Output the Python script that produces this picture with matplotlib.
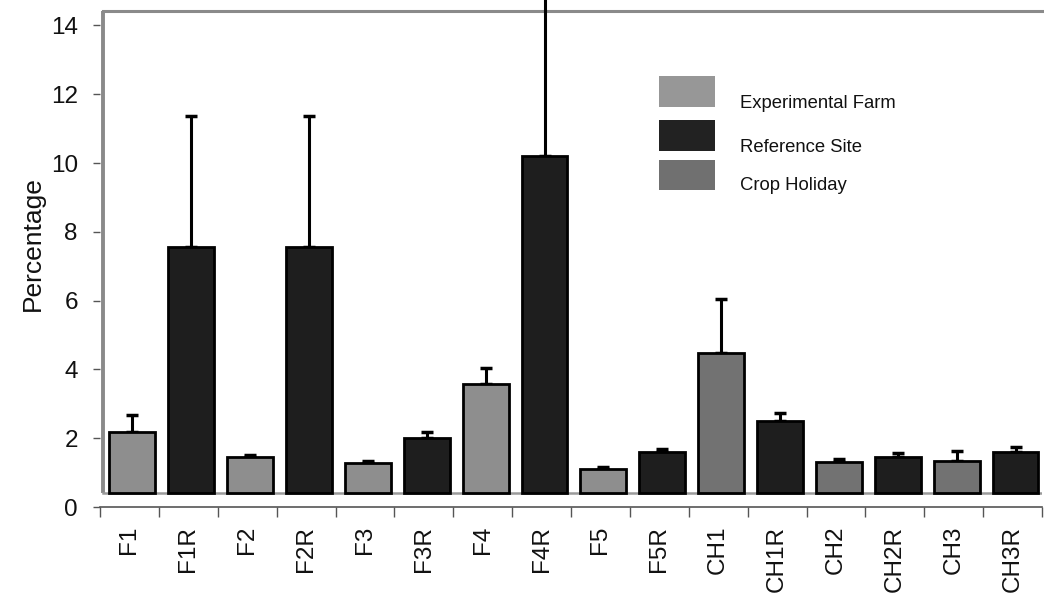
import numpy as np
import matplotlib
matplotlib.use("Agg")
import matplotlib.pyplot as plt
from matplotlib.patches import Rectangle

plt.rcParams['font.family'] = ['Liberation Sans', 'DejaVu Sans']

categories = ["F1", "F1R", "F2", "F2R", "F3", "F3R", "F4", "F4R",
              "F5", "F5R", "CH1", "CH1R", "CH2", "CH2R", "CH3", "CH3R"]
groups = ["EF", "RS", "EF", "RS", "EF", "RS", "EF", "RS",
          "EF", "RS", "CH", "RS", "CH", "RS", "CH", "RS"]
values = [2.19, 7.55, 1.44, 7.55, 1.27, 2.00, 3.58, 10.20,
          1.10, 1.61, 4.47, 2.51, 1.32, 1.44, 1.35, 1.61]
err_top = [2.67, 11.37, 1.52, 11.37, 1.34, 2.17, 4.04, 15.0,
           1.15, 1.68, 6.05, 2.72, 1.39, 1.56, 1.64, 1.75]
yticks = [0, 2, 4, 6, 8, 10, 12, 14]

group_names = {"EF": "Experimental Farm", "RS": "Reference Site", "CH": "Crop Holiday"}
group_colors = {"EF": "#8e8e8e", "RS": "#1e1e1e", "CH": "#727272"}
legend_colors = {"EF": "#979797", "RS": "#222222", "CH": "#707070"}

FLOOR = 0.4
YTOP = 14.42
W, H = 1044, 605

fig = plt.figure(figsize=(W / 100, H / 100), dpi=100)
n = len(categories)
ax = fig.add_axes([100 / W, (H - 507) / H, 942 / W, 496 / H])
ax.set_xlim(-0.5, n - 0.5)
ax.set_ylim(0, YTOP)

x = np.arange(n)
vals = np.array(values)
tops = np.array(err_top)
colors = [group_colors[g] for g in groups]

ax.bar(x + 0.05, vals - FLOOR, bottom=FLOOR, width=0.78, color=colors,
       edgecolor='black', linewidth=2, zorder=3)
ax.errorbar(x + 0.05, vals, yerr=[np.zeros(n), tops - vals], fmt='none',
            ecolor='black', elinewidth=2.2, capsize=4.5, capthick=2.5,
            zorder=2, clip_on=False)

# chart wall/floor decorations
wall_x = -0.45
ax.plot([wall_x, wall_x], [FLOOR, YTOP], color='#8a8a8a', lw=2.8,
        clip_on=False, zorder=1, solid_capstyle='butt')
ax.axhline(YTOP, xmin=0.05 / n, color='#8a8a8a', lw=2.2, clip_on=False, zorder=1)
ax.axhline(FLOOR, xmin=0.05 / n, color='#9a9a9a', lw=1.8, zorder=1)

for s in ['left', 'right', 'top']:
    ax.spines[s].set_visible(False)
ax.spines['bottom'].set_color('#555555')
ax.spines['bottom'].set_linewidth(1.2)

ax.set_yticks(yticks)
ax.set_yticklabels([str(t) for t in yticks])
ax.tick_params(axis='y', length=5, width=1, color='#555555', pad=11,
               labelsize=17.5, labelcolor='#111111')

ax.set_xticks(x)
ax.set_xticklabels(categories, rotation=90, va='top', ha='center')
ax.set_xticks(np.arange(-0.5, n, 1.0), minor=True)
ax.tick_params(axis='x', which='major', length=0, pad=13.5, labelsize=17.5,
               labelcolor='#111111')
ax.tick_params(axis='x', which='minor', length=7, width=1, color='#555555')

ax.set_ylabel('Percentage', fontsize=19, color='#111111')
ax.yaxis.set_label_coords(-0.058, 0.532)

# legend
leg_items = [("EF", 76, 107, 103), ("RS", 120, 151, 148), ("CH", 160, 190, 185)]
for g, y0, y1, ty in leg_items:
    fig.add_artist(Rectangle((659 / W, (H - y1) / H), 56 / W, (y1 - y0) / H,
                             transform=fig.transFigure,
                             facecolor=legend_colors[g], edgecolor='none'))
    fig.text(740 / W, 1 - ty / H, group_names[g], fontsize=13.3,
             va='center', ha='left', color='#111111')

fig.savefig('out.png', dpi=100)
